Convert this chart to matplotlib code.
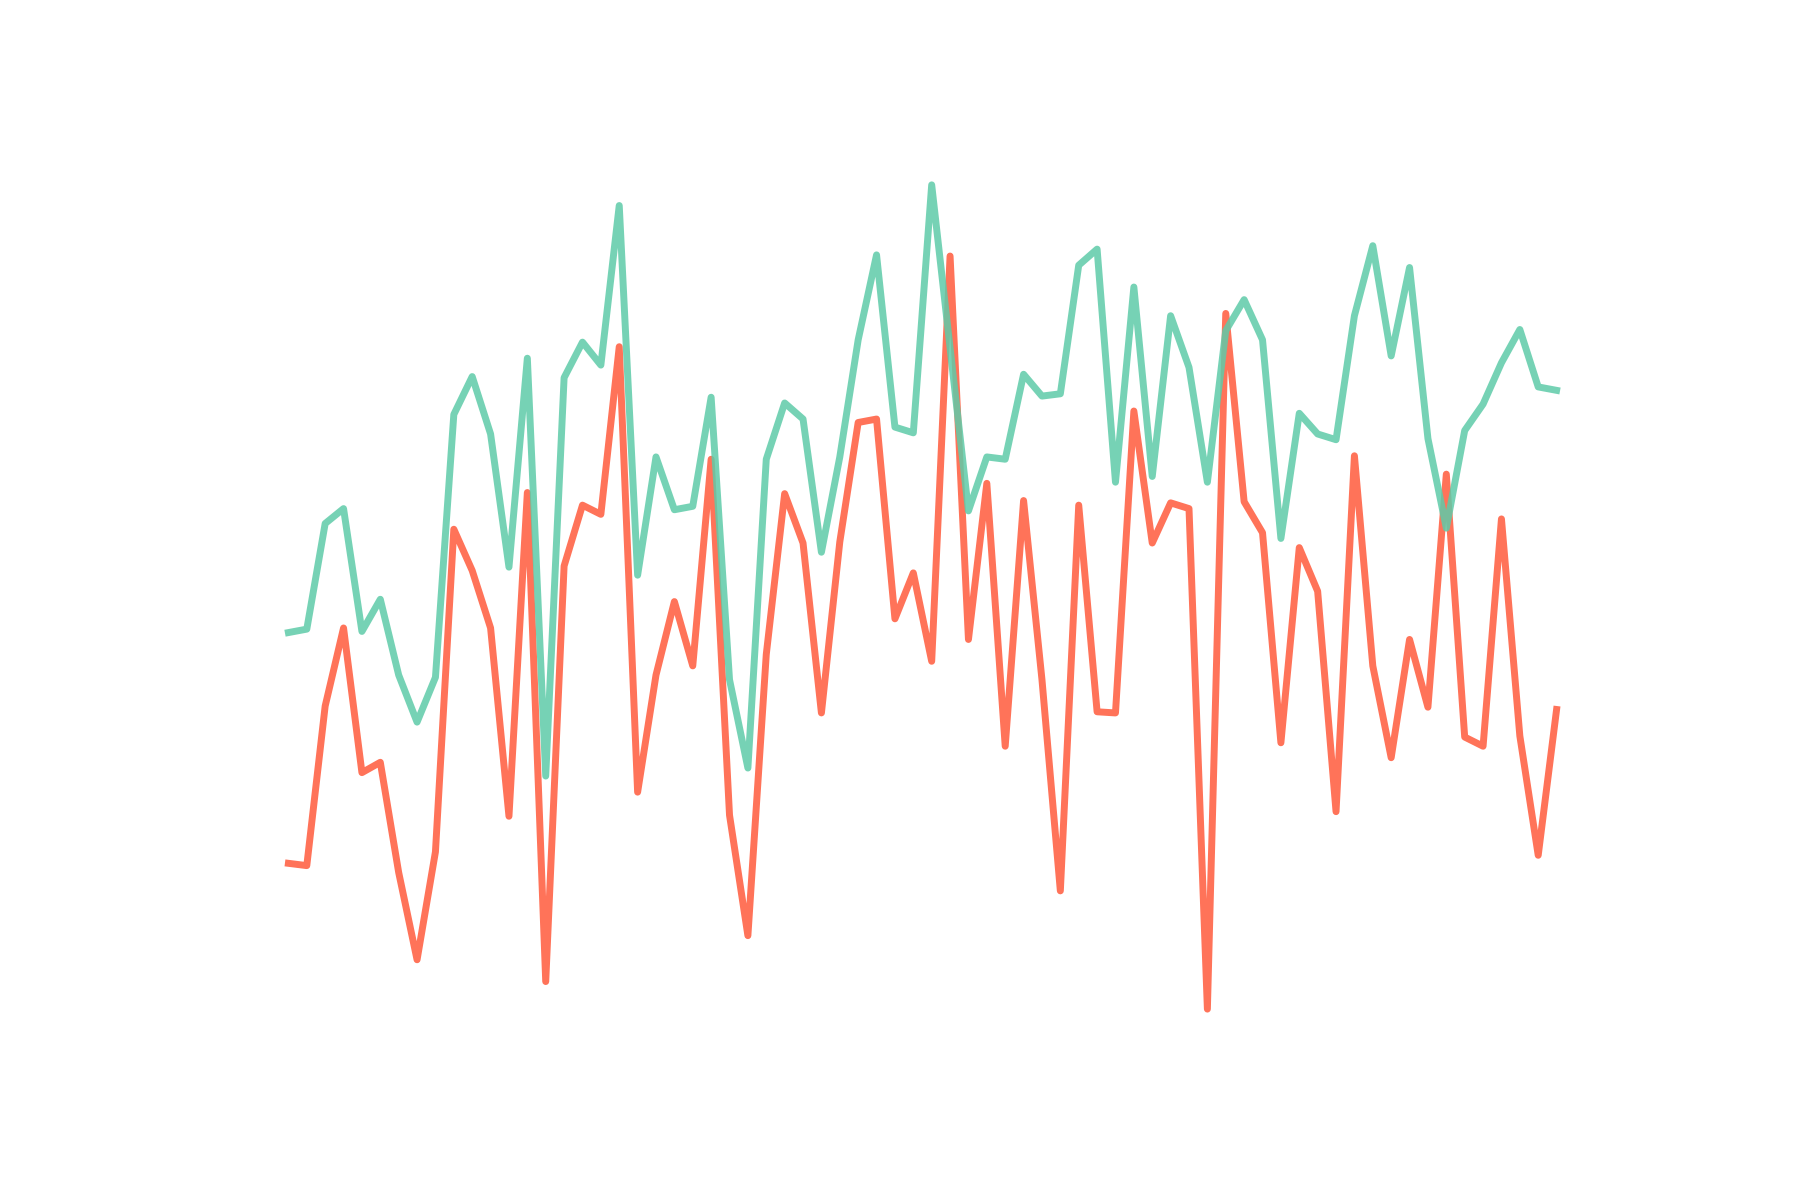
import numpy as np
import matplotlib
matplotlib.use("Agg")
import matplotlib.pyplot as plt

# deux séries (70 points chacune)
serie_verte = [3.49, 3.52, 4.44, 4.57, 3.50, 3.78, 3.12, 2.71, 3.10, 5.39,
               5.72, 5.22, 4.06, 5.88, 2.24, 5.71, 6.02, 5.82, 7.21, 3.99,
               5.02, 4.56, 4.59, 5.54, 3.08, 2.31, 5.00, 5.49, 5.35, 4.19,
               5.02, 6.04, 6.78, 5.28, 5.23, 7.39, 5.97, 4.55, 5.02, 5.00,
               5.74, 5.55, 5.57, 6.69, 6.83, 4.80, 6.50, 4.85, 6.25, 5.80,
               4.80, 6.12, 6.39, 6.04, 4.31, 5.40, 5.22, 5.17, 6.25, 6.86,
               5.90, 6.67, 5.18, 4.40, 5.25, 5.48, 5.84, 6.13, 5.63, 5.60]

serie_rouge = [1.48, 1.46, 2.85, 3.53, 2.27, 2.36, 1.40, 0.64, 1.58, 4.39,
               4.03, 3.53, 1.89, 4.71, 0.45, 4.07, 4.60, 4.52, 5.98, 2.10,
               3.12, 3.76, 3.20, 5.00, 1.90, 0.85, 3.30, 4.70, 4.27, 2.79,
               4.28, 5.32, 5.35, 3.61, 4.01, 3.24, 6.77, 3.43, 4.79, 2.50,
               4.64, 3.08, 1.24, 4.60, 2.80, 2.79, 5.42, 4.27, 4.62, 4.57,
               0.21, 6.27, 4.63, 4.36, 2.53, 4.23, 3.85, 1.93, 5.03, 3.20,
               2.40, 3.43, 2.84, 4.87, 2.58, 2.50, 4.48, 2.59, 1.55, 2.82]

x = np.arange(len(serie_verte))

fig, ax = plt.subplots(figsize=(18, 12), dpi=100)
ax.plot(x, serie_rouge, color="#FF5A3C", lw=5, alpha=0.85)
ax.plot(x, serie_verte, color="#5ECBA8", lw=5, alpha=0.85)
ax.set_ylim(-0.303, 7.746)
ax.axis("off")

plt.savefig("out.png", dpi=100)
